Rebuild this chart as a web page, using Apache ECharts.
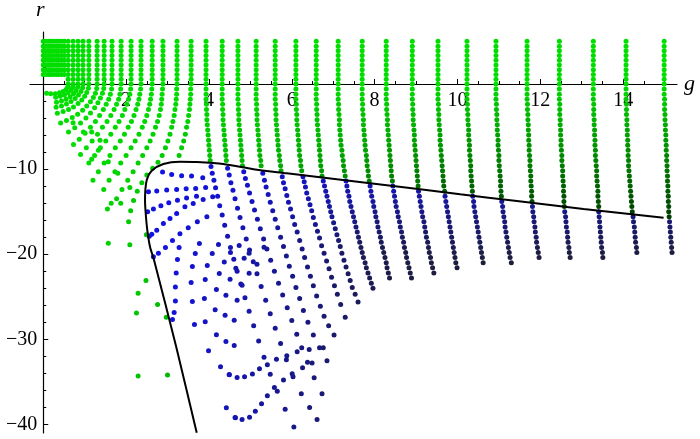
<!DOCTYPE html>
<html>
<head>
<meta charset="utf-8">
<script src="https://cdn.jsdelivr.net/npm/echarts@6/dist/echarts.min.js"></script>
<style>
  html, body { margin: 0; padding: 0; background: #fff; }
  #chart { width: 700px; height: 439px; }
</style>
</head>
<body>
<div id="chart"></div>
<script>
// axis ticks
var xMajorTicks = [2, 4, 6, 8, 10, 12, 14];
var xMinorTicks = [0.5, 1, 1.5, 2.5, 3, 3.5, 4.5, 5, 5.5, 6.5, 7, 7.5, 8.5, 9, 9.5, 10.5, 11, 11.5, 12.5, 13, 13.5, 14.5, 15];
var yMajorTicks = [-40, -30, -20, -10];
var yMinorTicks = [-38, -36, -34, -32, -28, -26, -24, -22, -18, -16, -14, -12, -8, -6, -4, -2, 2, 4];

// upper band: every column at every row above r = 0
var rowTopR = [5, 4.44, 3.89, 3.33, 2.78, 2.22, 1.67, 1.11, 0.56, 0];
var colTopG = [0, 0.06, 0.12, 0.18, 0.24, 0.31, 0.37, 0.44, 0.51, 0.6, 0.72, 0.84, 0.96, 1.1, 1.3, 1.47, 1.66, 1.88,
  2.12, 2.36, 2.63, 2.89, 3.23, 3.57, 3.93, 4.32, 4.7, 5.14, 5.6, 6.1, 6.59, 7.12, 7.7, 8.28, 8.91, 9.53, 10.23,
  10.93, 11.68, 12.46, 13.28, 14.07, 14.99];

// r of the dense rows below the axis (columns g >= 3.9)
var lowRowR = [-0.6, -1.2, -1.8, -2.4, -3, -3.6, -4.2, -4.8, -5.4, -6, -6.6, -7.2, -7.8, -8.4, -9, -9.6, -10.2, -10.8,
  -11.4, -12, -12.6, -13.2, -13.8, -14.4, -15, -15.6, -16.2, -16.8, -17.4, -18, -18.6, -19.2, -19.8, -20.4, -21,
  -21.6, -22.2, -22.8, -23.4, -24];

// g of each dense column on those rows
var denseColG = [
  [3.93, 3.93, 3.93, 3.94, 3.94, 3.95, 3.95, 3.96, 3.97, 3.98, 3.99, 4.00, 4.01, 4.02, 4.03],
  [4.32, 4.32, 4.32, 4.33, 4.33, 4.34, 4.34, 4.35, 4.36, 4.37, 4.38, 4.39, 4.40, 4.41, 4.42],
  [4.70, 4.70, 4.70, 4.71, 4.71, 4.72, 4.72, 4.73, 4.74, 4.75, 4.76, 4.77, 4.78, 4.79, 4.80, 4.81],
  [5.14, 5.14, 5.14, 5.15, 5.15, 5.16, 5.16, 5.17, 5.18, 5.19, 5.20, 5.21, 5.22, 5.23, 5.25, 5.26],
  [5.60, 5.60, 5.60, 5.61, 5.61, 5.62, 5.62, 5.63, 5.64, 5.65, 5.66, 5.67, 5.68, 5.70, 5.71, 5.73, 5.74],
  [6.10, 6.10, 6.10, 6.11, 6.11, 6.12, 6.12, 6.13, 6.14, 6.15, 6.16, 6.17, 6.18, 6.19, 6.21, 6.22, 6.24],
  [6.59, 6.59, 6.59, 6.60, 6.60, 6.61, 6.61, 6.62, 6.63, 6.64, 6.65, 6.66, 6.67, 6.68, 6.69, 6.70, 6.72, 6.73],
  [7.12, 7.12, 7.12, 7.13, 7.13, 7.14, 7.15, 7.15, 7.16, 7.17, 7.18, 7.19, 7.21, 7.22, 7.24, 7.25, 7.27, 7.29, 7.31, 7.33,
   7.35, 7.38, 7.40, 7.43, 7.46, 7.49, 7.52, 7.55, 7.58, 7.61, 7.64, 7.67, 7.70, 7.73, 7.77, 7.80, 7.84, 7.88, 7.92, 7.96],
  [7.70, 7.70, 7.70, 7.71, 7.71, 7.72, 7.73, 7.73, 7.74, 7.75, 7.76, 7.77, 7.78, 7.80, 7.81, 7.82, 7.84, 7.85, 7.87, 7.89,
   7.91, 7.93, 7.96, 7.98, 8.01, 8.03, 8.06, 8.08, 8.11, 8.14, 8.16, 8.19, 8.22, 8.25, 8.28, 8.30, 8.33, 8.36],
  [8.28, 8.28, 8.28, 8.29, 8.29, 8.30, 8.31, 8.31, 8.32, 8.33, 8.34, 8.35, 8.36, 8.37, 8.38, 8.39, 8.40, 8.41, 8.43, 8.44,
   8.46, 8.48, 8.50, 8.52, 8.55, 8.57, 8.60, 8.62, 8.65, 8.67, 8.70, 8.72, 8.75, 8.77, 8.80, 8.83, 8.86, 8.89],
  [8.91, 8.91, 8.91, 8.92, 8.92, 8.93, 8.93, 8.94, 8.95, 8.96, 8.96, 8.97, 8.98, 8.99, 9.00, 9.01, 9.02, 9.03, 9.04, 9.05,
   9.06, 9.08, 9.10, 9.12, 9.14, 9.16, 9.19, 9.21, 9.23, 9.25, 9.28, 9.30, 9.32, 9.35, 9.37, 9.40, 9.43],
  [9.53, 9.53, 9.53, 9.54, 9.54, 9.55, 9.55, 9.56, 9.57, 9.58, 9.58, 9.59, 9.60, 9.61, 9.62, 9.63, 9.64, 9.65, 9.66, 9.67,
   9.69, 9.70, 9.72, 9.74, 9.76, 9.78, 9.80, 9.82, 9.84, 9.86, 9.88, 9.90, 9.92, 9.94, 9.96, 9.99],
  [10.23, 10.23, 10.23, 10.24, 10.24, 10.25, 10.25, 10.26, 10.27, 10.27, 10.28, 10.29, 10.29, 10.30, 10.31, 10.32, 10.32,
   10.33, 10.34, 10.35, 10.36, 10.37, 10.39, 10.40, 10.42, 10.44, 10.46, 10.48, 10.50, 10.52, 10.54, 10.56, 10.58, 10.60, 10.62],
  [10.93, 10.93, 10.93, 10.94, 10.94, 10.95, 10.95, 10.96, 10.96, 10.97, 10.98, 10.98, 10.99, 11.00, 11.00, 11.01, 11.02,
   11.03, 11.04, 11.04, 11.05, 11.06, 11.07, 11.09, 11.10, 11.12, 11.14, 11.15, 11.17, 11.19, 11.21, 11.23, 11.25, 11.27, 11.30],
  [11.68, 11.68, 11.68, 11.69, 11.69, 11.70, 11.70, 11.71, 11.71, 11.72, 11.72, 11.73, 11.73, 11.74, 11.75, 11.75, 11.76,
   11.77, 11.77, 11.78, 11.79, 11.79, 11.80, 11.81, 11.82, 11.84, 11.85, 11.87, 11.88, 11.90, 11.91, 11.93, 11.95, 11.97],
  [12.46, 12.46, 12.46, 12.47, 12.47, 12.47, 12.48, 12.48, 12.49, 12.49, 12.50, 12.50, 12.51, 12.52, 12.52, 12.53, 12.54,
   12.54, 12.55, 12.56, 12.56, 12.57, 12.57, 12.58, 12.59, 12.61, 12.62, 12.63, 12.65, 12.66, 12.67, 12.69, 12.70, 12.72],
  [13.28, 13.28, 13.28, 13.29, 13.29, 13.29, 13.30, 13.30, 13.31, 13.31, 13.32, 13.32, 13.33, 13.33, 13.34, 13.35, 13.36,
   13.36, 13.37, 13.38, 13.39, 13.39, 13.40, 13.41, 13.41, 13.42, 13.43, 13.44, 13.45, 13.46, 13.47, 13.48, 13.50, 13.51],
  [14.07, 14.07, 14.07, 14.08, 14.08, 14.08, 14.09, 14.09, 14.10, 14.10, 14.11, 14.11, 14.12, 14.12, 14.13, 14.13, 14.14,
   14.15, 14.16, 14.17, 14.18, 14.19, 14.20, 14.21, 14.22, 14.24, 14.25, 14.27, 14.28, 14.29, 14.30, 14.32, 14.33],
  [14.99, 14.99, 15.00, 15.00, 15.00, 15.01, 15.01, 15.02, 15.02, 15.03, 15.03, 15.04, 15.04, 15.05, 15.05, 15.06, 15.06,
   15.07, 15.07, 15.08, 15.08, 15.09, 15.09, 15.10, 15.10, 15.11, 15.12, 15.13, 15.14, 15.15, 15.16, 15.17, 15.18]
];

// sparser lower ends of the middle columns (g, r)
var midTails = [
  [[4.05,-9.7],[4.08,-10.5],[4.12,-11.3],[4.16,-12.2],[4.21,-13.2],[4.26,-14.3],[4.32,-15.4],[4.38,-16.6],[4.45,-17.9],
   [4.52,-19.2],[4.60,-20.6],[4.68,-22.0],[4.77,-23.5],[4.87,-25.1],[4.97,-26.7],[5.08,-28.4],[5.20,-30.2],[5.33,-32.1],
   [5.48,-34.1],[5.65,-36.1],[5.84,-38.2],[6.05,-40.3]],
  [[4.45,-9.9],[4.49,-10.7],[4.53,-11.6],[4.58,-12.5],[4.63,-13.5],[4.69,-14.6],[4.75,-15.7],[4.82,-16.9],[4.90,-18.2],
   [4.98,-19.5],[5.07,-20.9],[5.16,-22.3],[5.26,-23.8],[5.37,-25.4],[5.48,-27.0],[5.60,-28.7],[5.73,-30.5],[5.87,-32.4],
   [6.03,-34.4],[6.23,-36.4],[6.43,-38.0],[6.61,-39.4]],
  [[4.84,-10.3],[4.88,-11.1],[4.93,-11.9],[4.98,-12.8],[5.04,-13.8],[5.10,-14.8],[5.17,-15.9],[5.24,-17.0],[5.32,-18.2],
   [5.40,-19.4],[5.49,-20.7],[5.58,-22.0],[5.68,-23.4],[5.78,-24.8],[5.89,-26.3],[6.00,-27.8],[6.12,-29.4],[6.24,-31.0],
   [6.38,-32.7],[6.54,-34.5],[6.73,-36.4]],
  [[5.30,-10.5],[5.34,-11.3],[5.38,-12.1],[5.43,-13.0],[5.48,-13.9],[5.54,-14.9],[5.60,-15.9],[5.66,-16.9],[5.73,-18.0],
   [5.80,-19.1],[5.87,-20.2],[5.94,-21.4],[6.02,-22.6],[6.10,-23.9],[6.19,-25.2],[6.28,-26.6],[6.39,-28.0],[6.52,-29.5],
   [6.67,-31.0],[6.85,-32.5]],
  [[5.77,-10.9],[5.80,-11.6],[5.84,-12.3],[5.88,-13.1],[5.92,-13.9],[5.97,-14.7],[6.02,-15.6],[6.07,-16.5],[6.13,-17.4],
   [6.19,-18.4],[6.25,-19.4],[6.31,-20.4],[6.38,-21.5],[6.45,-22.6],[6.52,-23.7],[6.60,-24.9],[6.69,-26.1],[6.78,-27.3],
   [6.89,-28.4],[7.02,-29.5]],
  [[6.27,-10.9],[6.30,-11.5],[6.33,-12.1],[6.36,-12.8],[6.40,-13.5],[6.44,-14.2],[6.48,-14.9],[6.52,-15.7],[6.57,-16.5],
   [6.62,-17.3],[6.67,-18.1],[6.72,-19.0],[6.78,-19.9],[6.84,-20.8],[6.90,-21.7],[6.96,-22.7],[7.03,-23.7],[7.10,-24.7],
   [7.18,-25.9],[7.29,-27.4]],
  [[6.76,-11.4],[6.79,-12.0],[6.82,-12.6],[6.85,-13.2],[6.88,-13.8],[6.91,-14.4],[6.94,-15.0],[6.97,-15.6],[7.01,-16.3],
   [7.05,-17.0],[7.09,-17.7],[7.13,-18.4],[7.17,-19.1],[7.21,-19.9],[7.26,-20.7],[7.31,-21.5],[7.36,-22.3],[7.41,-23.1],
   [7.46,-23.9],[7.53,-24.7],[7.60,-25.6]]
];

// left columns bending away below the axis (g, r)
var leftCols = [
  [[0.59,-0.35],[0.55,-0.65],[0.48,-0.9],[0.39,-1.05],[0.29,-1.15],[0.18,-1.15]],
  [[0.71,-0.4],[0.67,-0.75],[0.6,-1.05],[0.51,-1.3],[0.41,-1.45],[0.3,-1.55]],
  [[0.83,-0.4],[0.79,-0.8],[0.73,-1.15],[0.65,-1.5],[0.55,-1.8],[0.44,-2.0],[0.32,-2.15]],
  [[0.95,-0.45],[0.91,-0.9],[0.85,-1.3],[0.77,-1.7],[0.67,-2.05],[0.56,-2.35],[0.44,-2.6],[0.31,-2.75]],
  [[1.09,-0.5],[1.05,-1.0],[1.0,-1.45],[0.93,-1.9],[0.84,-2.3],[0.73,-2.7],[0.61,-3.0],[0.48,-3.25],[0.34,-3.45]],
  [[1.29,-0.55],[1.26,-1.1],[1.21,-1.6],[1.14,-2.1],[1.05,-2.6],[0.95,-3.1],[0.83,-3.55],[0.7,-3.95],[0.56,-4.3],[0.42,-4.6]],
  [[1.46,-0.55],[1.43,-1.1],[1.38,-1.65],[1.32,-2.2],[1.24,-2.8],[1.14,-3.4],[1.03,-4.0],[0.9,-4.6],[0.76,-5.15],[0.61,-5.65]],
  [[1.65,-0.6],[1.62,-1.2],[1.58,-1.8],[1.52,-2.4],[1.45,-3.0],[1.36,-3.7],[1.26,-4.4],[1.14,-5.1],[1.01,-5.8],[0.87,-6.5],
   [0.73,-7.1]],
  [[1.87,-0.6],[1.85,-1.2],[1.82,-1.8],[1.77,-2.4],[1.71,-3.0],[1.63,-3.7],[1.54,-4.4],[1.43,-5.1],[1.31,-5.9],[1.18,-6.7],
   [1.04,-7.5],[0.9,-8.3]],
  [[2.11,-0.6],[2.09,-1.2],[2.06,-1.8],[2.02,-2.4],[1.97,-3.0],[1.91,-3.7],[1.83,-4.4],[1.74,-5.1],[1.63,-5.9],[1.51,-6.7],
   [1.38,-7.5],[1.24,-8.4],[1.1,-9.3]],
  [[2.35,-0.6],[2.33,-1.2],[2.31,-1.8],[2.28,-2.4],[2.24,-3.0],[2.19,-3.7],[2.13,-4.4],[2.05,-5.1],[1.96,-5.9],[1.86,-6.7],
   [1.74,-7.5],[1.61,-8.4],[1.47,-9.3],[1.33,-10.3],[1.2,-11.3]],
  [[2.62,-0.6],[2.61,-1.2],[2.59,-1.8],[2.57,-2.4],[2.54,-3.0],[2.5,-3.7],[2.45,-4.4],[2.39,-5.1],[2.31,-5.9],[2.22,-6.7],
   [2.12,-7.5],[2.0,-8.4],[1.87,-9.3],[1.73,-10.3],[1.59,-11.3],[1.46,-12.4]],
  [[2.88,-0.6],[2.87,-1.2],[2.86,-1.8],[2.85,-2.4],[2.83,-3.0],[2.8,-3.7],[2.76,-4.4],[2.71,-5.1],[2.65,-5.9],[2.58,-6.7],
   [2.5,-7.5],[2.4,-8.4],[2.29,-9.3],[2.17,-10.3],[2.04,-11.3],[1.9,-12.4],[1.77,-13.5]],
  [[3.22,-0.6],[3.22,-1.2],[3.21,-1.8],[3.2,-2.4],[3.18,-3.0],[3.16,-3.7],[3.13,-4.4],[3.1,-5.1],[3.06,-5.9],[3.01,-6.7],
   [2.95,-7.5],[2.87,-8.4],[2.77,-9.2],[2.64,-9.9],[2.5,-10.7],[2.38,-11.6],[2.27,-12.6],[2.18,-13.7],[2.11,-14.9],[2.06,-16.2]],
  [[3.56,-0.6],[3.56,-1.2],[3.55,-1.8],[3.54,-2.4],[3.53,-3.0],[3.51,-3.7],[3.49,-4.4],[3.46,-5.1],[3.43,-5.9],[3.39,-6.7],
   [3.34,-7.5],[3.28,-8.4]]
];

// loose green dots left of the boundary
var strayPts = [[0.08,-1.1],[0.72,-4.55],[0.97,-5.64],[1.17,-5.64],[1.37,-6.62],[1.33,-7.8],[1.17,-8.86],[1.57,-9.14],
  [1.8,-10.5],[2.09,-12.15],[1.55,-14.7],[1.64,-14.0],[1.87,-14.0],[1.57,-18.7],[2.09,-18.9],[2.49,-17.7],[2.48,-23.1],
  [2.29,-24.6],[2.76,-25.9],[2.25,-26.9],[2.97,-27.4],[2.29,-34.3],[3.0,-34.2]];

// rows fanning out from the left side of the boundary
var fanRows = [
  [[2.88,-10.35],[3.10,-10.63],[3.34,-10.78],[3.58,-10.82],[3.85,-11.02]],
  [[2.54,-12.67],[2.74,-12.59],[2.98,-12.47],[3.22,-12.39],[3.45,-12.32],[3.68,-12.27],[3.92,-12.15]],
  [[2.52,-15.0],[2.66,-14.7],[2.84,-14.3],[3.03,-13.95],[3.24,-13.65],[3.46,-13.4],[3.7,-13.2]],
  [[2.56,-17.9],[2.62,-17.65],[2.74,-17.18],[2.90,-16.39],[3.06,-15.8],[3.22,-15.21],[3.42,-14.44],[3.62,-14.04],
   [3.86,-13.56],[4.09,-13.26]],
  [[2.66,-20.3],[2.78,-19.9],[2.95,-19.2],[3.12,-18.4],[3.3,-17.6],[3.5,-16.9],[3.72,-16.2],[3.95,-15.6]]
];

// bowed arcs inside the boundary
var fanArcs = [
  [[3.28,-19.21],[3.24,-20.62],[3.21,-22.2],[3.19,-23.85],[3.19,-25.49],[3.16,-26.86],[3.12,-27.68]],
  [[3.77,-18.74],[3.67,-19.92],[3.60,-21.45],[3.57,-23.33],[3.60,-25.56],[3.65,-28.27]],
  [[4.23,-18.86],[4.08,-19.92],[3.96,-21.33],[3.91,-22.98],[3.89,-25.21],[3.91,-27.92],[3.99,-31.33]],
  [[4.73,-18.98],[4.52,-19.8],[4.37,-20.91],[4.25,-22.27],[4.18,-24.15],[4.15,-26.51],[4.18,-29.45],[4.28,-33.21],[4.42,-38.04]],
  [[4.97,-19.88],[4.85,-20.47],[4.65,-21.65],[4.51,-22.94],[4.41,-24.82],[4.39,-27.18],[4.41,-30.24],[4.49,-34.12],[4.63,-39.18]],
  [[5.33,-19.18],[5.16,-21.18],[4.97,-22.24],[4.80,-23.65],[4.68,-25.41],[4.61,-27.76],[4.61,-30.71],[4.68,-34.47],[4.80,-39.41]]
];

// U-shaped rows at the bottom of the fan
var fanUArcs = [
  [[4.49,-34.15],[4.86,-34.39],[5.05,-34.08],[5.22,-33.45],[5.41,-32.98],[5.63,-32.35],[5.88,-31.92],[6.13,-31.45],[6.42,-31.18],[6.76,-30.98]],
  [[4.64,-39.21],[4.98,-39.14],[5.12,-38.44],[5.27,-37.56],[5.41,-36.62],[5.58,-35.65],[5.80,-34.78],[6.01,-34.04],[6.26,-33.33],[6.49,-32.79]]
];

// black boundary curve
var boundary = [[3.705,-40.98],[3.205,-30.79],[2.674,-20.68],[2.577,-19.12],[2.512,-17.16],[2.473,-15.19],[2.457,-13.63],
  [2.498,-11.28],[2.618,-10.19],[2.899,-9.40],[3.302,-9.13],[3.705,-9.17],[4.348,-9.40],[5.072,-10.02],[5.879,-10.49],
  [6.684,-10.96],[7.488,-11.43],[8.295,-11.90],[9.099,-12.37],[10.065,-12.96],[11.435,-13.75],[13.043,-14.69],[14.976,-15.71]];

var points = [];
colTopG.forEach(function (g) {
  rowTopR.forEach(function (r) {
    if (g < 0.55 && r < 1.1) return;
    points.push([g, r]);
  });
});
denseColG.forEach(function (col) {
  col.forEach(function (g, k) { points.push([g, lowRowR[k]]); });
});
[midTails, leftCols, fanRows, fanArcs, fanUArcs].forEach(function (group) {
  group.forEach(function (line) { points = points.concat(line); });
});
points = points.concat(strayPts);

// region closed by the boundary (blue inside)
var zone = boundary.concat([[15.6, -15.9], [15.6, -45], [3.9, -45]]);
function inside(g, r) {
  var hit = false;
  for (var i = 0, j = zone.length - 1; i < zone.length; j = i++) {
    var gi = zone[i][0], ri = zone[i][1], gj = zone[j][0], rj = zone[j][1];
    if ((ri > r) !== (rj > r) && g < (gj - gi) * (r - ri) / (rj - ri) + gi) hit = !hit;
  }
  return hit;
}
function clamp(v) { return Math.max(0, Math.min(1, v)); }

function dotColor(p) {
  var g = p.data[0], r = p.data[1];
  if (inside(g, r)) {
    var depth = -r - (9.13 + 0.55 * (g - 3.3));
    var d = 0.7 * clamp(0.06 * (g - 3)) + 0.5 * clamp(depth / 8) * clamp((g - 3) / 5);
    d = clamp(d * 1.15);
    var c = Math.round(18 + 12 * d), b = Math.round(225 - 180 * d);
    return 'rgb(' + c + ',' + c + ',' + b + ')';
  }
  var dg = r >= 0 ? 0 : clamp(-r / 16) * clamp((g - 1) / 9);
  return 'rgb(0,' + Math.round(222 - 165 * dg) + ',0)';
}

var serif = 'Liberation Serif';
var xRange = { min: -0.32, max: 15.3 };
var yRange = { min: -41, max: 6.1 };
var hidden = { show: false };
var chart = echarts.init(document.getElementById('chart'));
chart.setOption({
  animation: false,
  grid: [
    { left: 30, right: 23, top: 32, bottom: 6, outerBoundsMode: 'none' },
    // x axis drawn along r = 0
    { left: 30, right: 23, top: 32, height: 52, outerBoundsMode: 'none' },
    // y axis drawn along g = 0
    { left: 43.25, right: 23, top: 32, bottom: 6, outerBoundsMode: 'none' }
  ],
  xAxis: [
    { gridIndex: 0, type: 'value', min: xRange.min, max: xRange.max, show: false },
    {
      gridIndex: 1, type: 'value', min: xRange.min, max: xRange.max, position: 'bottom',
      name: 'g', nameLocation: 'end', nameGap: 7,
      nameTextStyle: { fontFamily: serif, fontStyle: 'italic', fontSize: 22, color: '#000' },
      axisLine: { onZero: false, lineStyle: { color: '#000', width: 1.2 } },
      axisTick: { inside: true, length: 5, customValues: xMajorTicks, lineStyle: { color: '#000' } },
      axisLabel: { customValues: xMajorTicks, margin: 7, fontFamily: serif, fontSize: 20, color: '#000' },
      splitLine: hidden
    },
    {
      gridIndex: 1, type: 'value', min: xRange.min, max: xRange.max, position: 'bottom',
      axisLine: { show: false, onZero: false },
      axisTick: { inside: true, length: 3, customValues: xMinorTicks, lineStyle: { color: '#000' } },
      axisLabel: hidden, splitLine: hidden
    },
    { gridIndex: 2, type: 'value', min: 0, max: 1, show: false }
  ],
  yAxis: [
    { gridIndex: 0, type: 'value', min: yRange.min, max: yRange.max, show: false },
    { gridIndex: 1, type: 'value', min: 0, max: 1, show: false },
    {
      gridIndex: 2, type: 'value', min: yRange.min, max: yRange.max, position: 'left',
      name: 'r', nameLocation: 'end', nameGap: 11,
      nameTextStyle: { fontFamily: serif, fontStyle: 'italic', fontSize: 22, color: '#000', padding: [0, 6, 0, 0] },
      axisLine: { onZero: false, lineStyle: { color: '#000', width: 1.2 } },
      axisTick: { inside: true, length: 5, customValues: yMajorTicks, lineStyle: { color: '#000' } },
      axisLabel: {
        customValues: yMajorTicks, margin: 6, fontFamily: serif, fontSize: 20, color: '#000',
        formatter: function (v) { return String(v).replace('-', '\u2212'); }
      },
      splitLine: hidden
    },
    {
      gridIndex: 2, type: 'value', min: yRange.min, max: yRange.max, position: 'left',
      axisLine: { show: false, onZero: false },
      axisTick: { inside: true, length: 3, customValues: yMinorTicks, lineStyle: { color: '#000' } },
      axisLabel: hidden, splitLine: hidden
    }
  ],
  series: [{
    type: 'scatter',
    xAxisIndex: 0, yAxisIndex: 0,
    data: points,
    symbolSize: 5,
    itemStyle: { color: dotColor, opacity: 1 },
    silent: true,
    z: 2
  }, {
    type: 'line',
    xAxisIndex: 0, yAxisIndex: 0,
    data: boundary,
    showSymbol: false,
    smooth: 0.25,
    lineStyle: { color: '#000', width: 2 },
    silent: true,
    z: 3
  }]
});
</script>
</body>
</html>
